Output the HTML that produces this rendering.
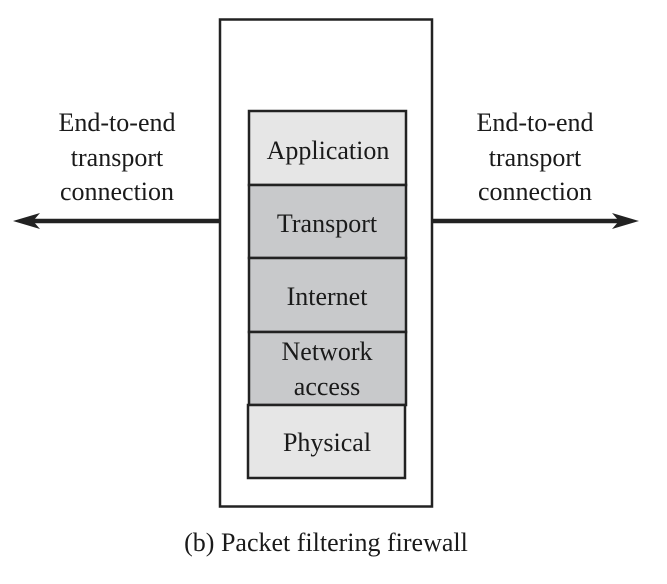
<!DOCTYPE html>
<html><head><style>body{margin:0;background:#fff}</style></head><body>
<svg width="667" height="579" xmlns="http://www.w3.org/2000/svg" font-family="'Liberation Serif', serif" fill="#1a1a1a">
<rect x="220" y="19.5" width="212" height="487" fill="none" stroke="#222" stroke-width="2.5"/>
<rect x="249" y="111" width="157" height="74" fill="#e6e6e6" stroke="#222" stroke-width="2.5"/>
<rect x="249" y="185" width="157" height="73" fill="#c8c9cb" stroke="#222" stroke-width="2.5"/>
<rect x="249" y="258" width="157" height="74" fill="#c8c9cb" stroke="#222" stroke-width="2.5"/>
<rect x="249" y="332" width="157" height="73" fill="#c8c9cb" stroke="#222" stroke-width="2.5"/>
<rect x="248" y="405" width="157" height="73" fill="#e6e6e6" stroke="#222" stroke-width="2.5"/>
<line x1="220" y1="221" x2="30" y2="221" stroke="#222" stroke-width="4.5"/>
<polygon points="13,221 40,213 33,221 40,229" fill="#222"/>
<line x1="432" y1="221" x2="622" y2="221" stroke="#222" stroke-width="4.5"/>
<polygon points="639,221 612,213 619,221 612,229" fill="#222"/>
<g font-size="26" text-anchor="middle">
<text x="117" y="131">End-to-end</text>
<text x="117" y="166">transport</text>
<text x="117" y="200">connection</text>
<text x="535" y="131">End-to-end</text>
<text x="535" y="166">transport</text>
<text x="535" y="200">connection</text>
<text x="328" y="159">Application</text>
<text x="327" y="232">Transport</text>
<text x="327" y="305">Internet</text>
<text x="327" y="360">Network</text>
<text x="327" y="395">access</text>
<text x="327" y="451">Physical</text>
<text x="326" y="551">(b) Packet filtering firewall</text>
</g>
</svg>
</body></html>
